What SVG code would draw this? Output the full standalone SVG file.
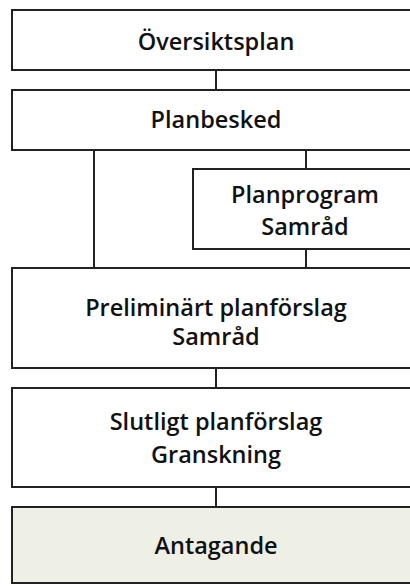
<svg xmlns="http://www.w3.org/2000/svg" width="410" height="586" viewBox="0 0 410 586">
<style>
.box{fill:#ffffff;stroke:#222;stroke-width:2}
.ant{fill:#eef0e6;stroke:#222;stroke-width:2}
.lbl{font-family:"Open Sans","Liberation Sans",sans-serif;font-size:23.5px;font-weight:600;fill:#111;text-anchor:middle}
.con{stroke:#222;stroke-width:2;fill:none}
</style>
<rect width="410" height="586" fill="#ffffff"/>
<g id="connectors">
<line class="con" x1="216" y1="70" x2="216" y2="90"/>
<line class="con" x1="94" y1="150" x2="94" y2="268"/>
<line class="con" x1="306" y1="150" x2="306" y2="169"/>
<line class="con" x1="306" y1="249" x2="306" y2="268"/>
<line class="con" x1="216" y1="368" x2="216" y2="388"/>
<line class="con" x1="216" y1="487" x2="216" y2="507"/>
</g>
<g id="oversiktsplan">
<rect class="box" x="12" y="10" width="420" height="60"/>
<text class="lbl" x="216" y="50">Översiktsplan</text>
</g>
<g id="planbesked">
<rect class="box" x="12" y="90" width="420" height="60"/>
<text class="lbl" x="216" y="128">Planbesked</text>
</g>
<g id="planprogram">
<rect class="box" x="193" y="169" width="240" height="80"/>
<text class="lbl" x="305" y="203">Planprogram</text>
<text class="lbl" x="305" y="235">Samråd</text>
</g>
<g id="preliminart">
<rect class="box" x="12" y="268" width="420" height="100"/>
<text class="lbl" x="216" y="316">Preliminärt planförslag</text>
<text class="lbl" x="216" y="345">Samråd</text>
</g>
<g id="slutligt">
<rect class="box" x="12" y="388" width="420" height="99"/>
<text class="lbl" x="216" y="430">Slutligt planförslag</text>
<text class="lbl" x="216" y="463">Granskning</text>
</g>
<g id="antagande">
<rect class="ant" x="12" y="507" width="420" height="76"/>
<text class="lbl" x="216" y="554">Antagande</text>
</g>
</svg>
